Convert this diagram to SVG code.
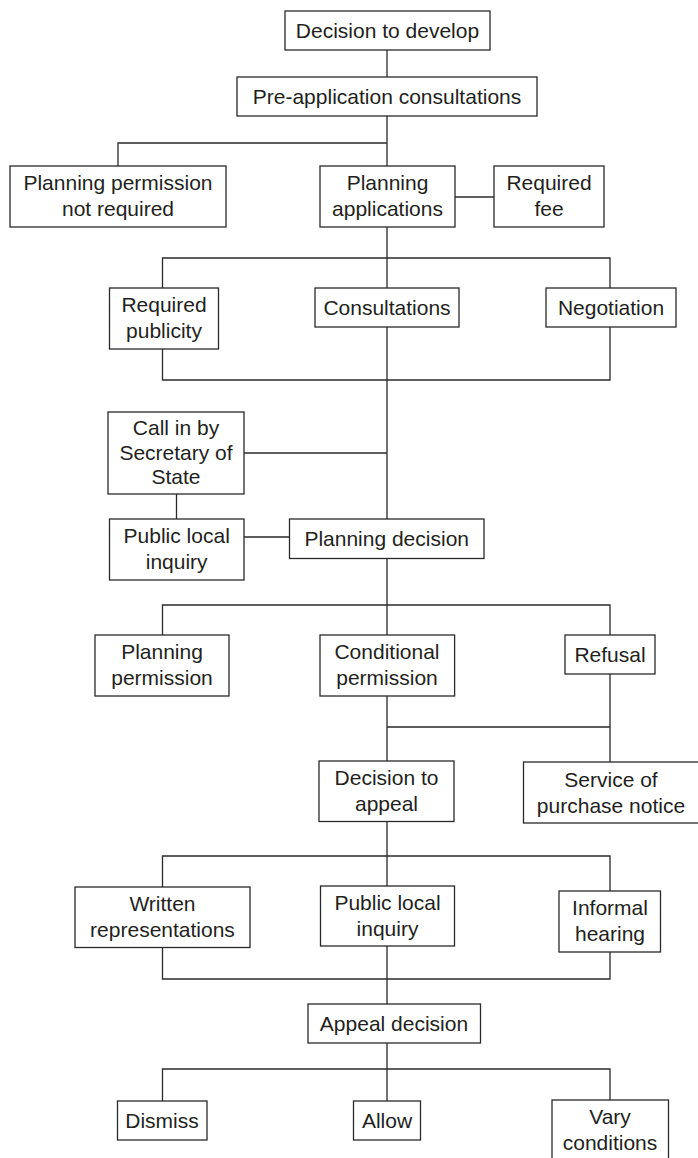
<svg xmlns="http://www.w3.org/2000/svg" width="698" height="1158" viewBox="0 0 698 1158">
  <style>
    .box { fill: #ffffff; stroke: #2a2a2a; stroke-width: 1.3; }
    .lbl { font-family: "Liberation Sans", Arial, sans-serif; font-size: 21px; fill: #231f20; text-anchor: middle; }
    .wire { fill: none; stroke: #2a2a2a; stroke-width: 1.3; }
  </style>
  <rect width="698" height="1158" fill="#ffffff"/>

  <!-- connectors -->
  <g id="connectors" class="wire">
    <path d="M387 50 V77"/>
    <path d="M387 116 V166 M118 166 V143 H387"/>
    <path d="M455 197 H494"/>
    <path d="M387 227 V288 M162.5 288 V258 H610 V288"/>
    <path d="M162.5 349 V380 H610 V327 M387 327 V519"/>
    <path d="M244 453 H387"/>
    <path d="M176.5 494 V519"/>
    <path d="M244 537 H289.5"/>
    <path d="M387 559 V635 M162.5 635 V605 H610 V635"/>
    <path d="M387 696 V761 M387 727 H610 M610 674 V762"/>
    <path d="M387 821 V886 M162.5 887 V856 H610 V891"/>
    <path d="M162.5 947 V979 H610 V952 M387 946 V1004"/>
    <path d="M387 1043 V1101 M162.5 1101 V1069 H610 V1100"/>
  </g>

  <g id="decision-to-develop">
    <rect class="box" x="285" y="11" width="205" height="39"/>
    <text class="lbl" x="387.5" y="38">Decision to develop</text>
  </g>
  <g id="pre-application">
    <rect class="box" x="237" y="77" width="300" height="39"/>
    <text class="lbl" x="387" y="104">Pre-application consultations</text>
  </g>
  <g id="not-required">
    <rect class="box" x="10" y="166" width="216" height="61"/>
    <text class="lbl" x="118" y="190">Planning permission</text>
    <text class="lbl" x="118" y="216">not required</text>
  </g>
  <g id="planning-applications">
    <rect class="box" x="320" y="166" width="135" height="61"/>
    <text class="lbl" x="387.5" y="190">Planning</text>
    <text class="lbl" x="387.5" y="216">applications</text>
  </g>
  <g id="required-fee">
    <rect class="box" x="494" y="166" width="110" height="61"/>
    <text class="lbl" x="549" y="190">Required</text>
    <text class="lbl" x="549" y="216">fee</text>
  </g>
  <g id="required-publicity">
    <rect class="box" x="109.5" y="288" width="109" height="61"/>
    <text class="lbl" x="164" y="312">Required</text>
    <text class="lbl" x="164" y="338">publicity</text>
  </g>
  <g id="consultations">
    <rect class="box" x="315" y="288" width="144" height="39"/>
    <text class="lbl" x="387" y="315">Consultations</text>
  </g>
  <g id="negotiation">
    <rect class="box" x="546" y="288" width="130" height="39"/>
    <text class="lbl" x="611" y="315">Negotiation</text>
  </g>
  <g id="call-in">
    <rect class="box" x="108" y="412" width="136" height="82"/>
    <text class="lbl" x="176" y="435">Call in by</text>
    <text class="lbl" x="176" y="460">Secretary of</text>
    <text class="lbl" x="176" y="484">State</text>
  </g>
  <g id="public-local-inquiry-1">
    <rect class="box" x="109.5" y="519" width="134.5" height="61"/>
    <text class="lbl" x="176.7" y="543">Public local</text>
    <text class="lbl" x="176.7" y="569">inquiry</text>
  </g>
  <g id="planning-decision">
    <rect class="box" x="289.5" y="519" width="194.5" height="39.5"/>
    <text class="lbl" x="386.7" y="546">Planning decision</text>
  </g>
  <g id="planning-permission">
    <rect class="box" x="95" y="635" width="134" height="61"/>
    <text class="lbl" x="162" y="659">Planning</text>
    <text class="lbl" x="162" y="685">permission</text>
  </g>
  <g id="conditional-permission">
    <rect class="box" x="320" y="635" width="134.6" height="61"/>
    <text class="lbl" x="387" y="659">Conditional</text>
    <text class="lbl" x="387" y="685">permission</text>
  </g>
  <g id="refusal">
    <rect class="box" x="565" y="635" width="90" height="39"/>
    <text class="lbl" x="610" y="662">Refusal</text>
  </g>
  <g id="decision-to-appeal">
    <rect class="box" x="319" y="761" width="135" height="60.5"/>
    <text class="lbl" x="386.5" y="785">Decision to</text>
    <text class="lbl" x="386.5" y="811">appeal</text>
  </g>
  <g id="purchase-notice">
    <rect class="box" x="523.5" y="762" width="180" height="61"/>
    <text class="lbl" x="611" y="786.5">Service of</text>
    <text class="lbl" x="611" y="813">purchase notice</text>
  </g>
  <g id="written-representations">
    <rect class="box" x="75" y="887" width="175" height="60.5"/>
    <text class="lbl" x="162.5" y="911">Written</text>
    <text class="lbl" x="162.5" y="937">representations</text>
  </g>
  <g id="public-local-inquiry-2">
    <rect class="box" x="320.5" y="886" width="134" height="60"/>
    <text class="lbl" x="387.5" y="910">Public local</text>
    <text class="lbl" x="387.5" y="936">inquiry</text>
  </g>
  <g id="informal-hearing">
    <rect class="box" x="559" y="891" width="101.5" height="61"/>
    <text class="lbl" x="610" y="915">Informal</text>
    <text class="lbl" x="610" y="941">hearing</text>
  </g>
  <g id="appeal-decision">
    <rect class="box" x="308" y="1004" width="172.5" height="39"/>
    <text class="lbl" x="394" y="1031">Appeal decision</text>
  </g>
  <g id="dismiss">
    <rect class="box" x="117.5" y="1101" width="89.5" height="39"/>
    <text class="lbl" x="162" y="1128">Dismiss</text>
  </g>
  <g id="allow">
    <rect class="box" x="353.5" y="1101" width="67" height="39"/>
    <text class="lbl" x="387" y="1128">Allow</text>
  </g>
  <g id="vary-conditions">
    <rect class="box" x="552" y="1100" width="116.5" height="70"/>
    <text class="lbl" x="610" y="1124">Vary</text>
    <text class="lbl" x="610" y="1150">conditions</text>
  </g>
</svg>
